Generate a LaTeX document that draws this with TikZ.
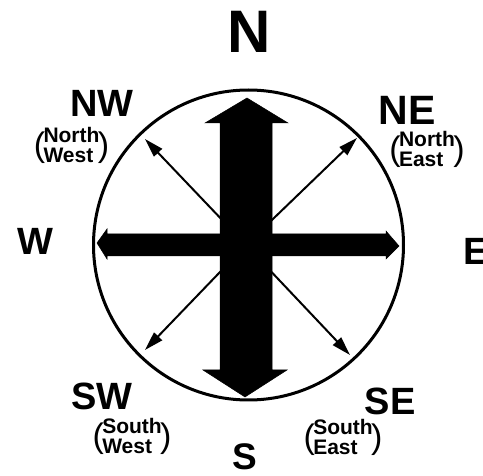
\documentclass[tikz,border=0pt]{standalone}
\usepackage{fontspec}
\setmainfont{Liberation Sans}
\usetikzlibrary{arrows.meta}
\newcommand\pfont{\fontsize{34}{34}\selectfont\mdseries}
\newcommand\sublabel[2]{$\vcenter{\hbox{\pfont(}}\mkern-3mu\vcenter{\hbox{\fontsize{21}{18}\selectfont\bfseries\begin{tabular}{@{}l@{}}#1\\#2\end{tabular}}}\mkern-3mu\vcenter{\hbox{\pfont)}}$}
\tikzset{
  big/.style={font=\fontsize{38}{38}\selectfont\bfseries, inner sep=0pt, anchor=base},
  sub/.style={inner sep=0pt},
  thin/.style={line width=2pt, -{Triangle[length=19pt,width=11pt]}},
  bigarrow/.style={fill=black, draw=black, line width=0.5pt, line join=miter},
}
\begin{document}
\begin{tikzpicture}[x=1pt,y=-1pt]
\clip (0,0) rectangle (483,476);
\fill[white] (0,0) rectangle (483,476);
% centre and tips
\coordinate (c) at (246,245);
\coordinate (tnw) at (145,139);
\coordinate (tne) at (357,138);
\coordinate (tse) at (350,355);
\coordinate (tsw) at (145,350);
\draw[thin] (c) -- (tnw);
\draw[thin] (c) -- (tne);
\draw[thin] (c) -- (tse);
\draw[thin] (c) -- (tsw);
% big arrows
\draw[bigarrow] (247,98) -- (288,123) -- (272,123) -- (272,370) -- (287,370) -- (245,397) -- (203,370) -- (220,370) -- (220,123) -- (205,123) -- cycle;
\draw[bigarrow] (97,243) -- (107,229) -- (107,234) -- (386,234) -- (386,231) -- (399,246) -- (386,259) -- (386,256) -- (107,256) -- (107,259) -- cycle;
% circle
\node[draw, circle, line width=3pt, minimum size=310pt, inner sep=0pt] (ring) at (248.5,245) {};
% labels
\node[big, font=\fontsize{60}{60}\selectfont\bfseries] (n) at (249,53) {N};
\node[big] (nw) at (102,117) {NW};
\node[big, font=\fontsize{41}{41}\selectfont\bfseries] (ne) at (407,125) {NE};
\node[big] (w) at (35,255) {W};
\node[big, anchor=base west] (e) at (463,265) {E};
\node[big] (sw) at (102,410) {SW};
\node[big] (se) at (390,415) {SE};
\node[big, font=\fontsize{37}{37}\selectfont\bfseries] (s) at (245,470) {S};
\node[sub] (nwsub) at (71.5,148) {\sublabel{North}{West}};
\node[sub] (nesub) at (427,152) {\sublabel{North}{East}};
\node[sub] (swsub) at (132,439) {\sublabel{South}{West}};
\node[sub] (sesub) at (343,440) {\sublabel{South}{East}};
\end{tikzpicture}
\end{document}
